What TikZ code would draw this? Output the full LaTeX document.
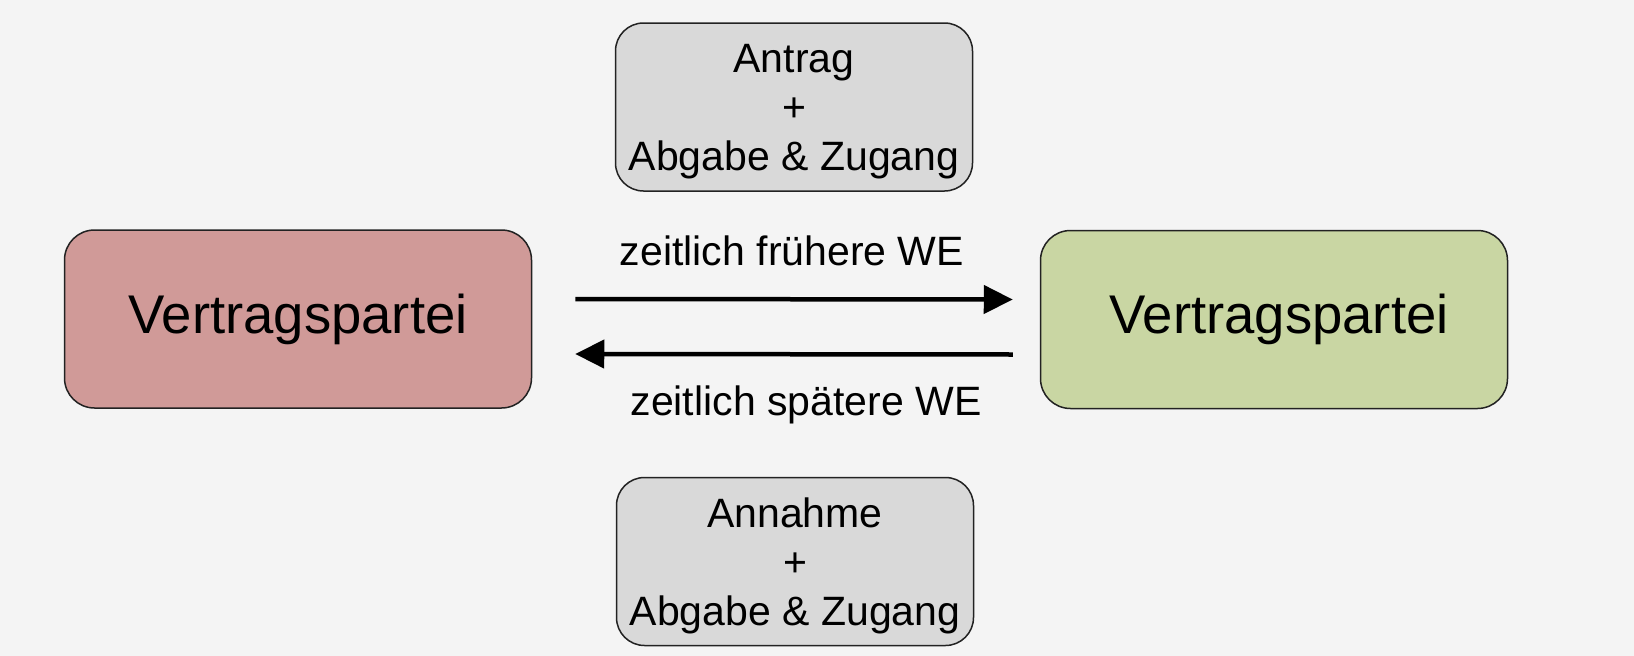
\documentclass[tikz,border=0pt]{standalone}
\usepackage{fontspec}
\setmainfont{Liberation Sans}
\usetikzlibrary{arrows.meta}
\definecolor{bg}{HTML}{F4F4F4}
\definecolor{redbox}{HTML}{D09A98}
\definecolor{greenbox}{HTML}{C9D6A3}
\definecolor{graybox}{HTML}{D9D9D9}
\definecolor{edgecol}{HTML}{222222}
\begin{document}
\begin{tikzpicture}[x=1pt,y=-1pt,
  party/.style={draw=edgecol, line width=1.5pt, rounded corners=30pt, minimum width=467pt, minimum height=178pt, font=\fontsize{54.5}{60}\selectfont, inner sep=0pt},
  info/.style={draw=edgecol, fill=graybox, line width=1.5pt, rounded corners=28pt, minimum width=357pt, minimum height=168pt, align=center, font=\fontsize{41}{49}\selectfont, inner sep=0pt, text depth=0pt},
  lab/.style={font=\fontsize{41}{48}\selectfont, anchor=base, inner sep=0pt},
  arr/.style={line width=4.5pt, -{Triangle[length=29pt,width=28pt]}}]
\fill[bg] (0,0) rectangle (1634,656);
\useasboundingbox (0,0) rectangle (1634,656);
\node[party, fill=redbox] (L) at (298,319) {Vertragspartei};
\node[party, fill=greenbox] (R) at (1274,319.5) {\hspace*{10pt}Vertragspartei};
\node[info] (T) at (794,107) {Antrag\\+\\Abgabe \& Zugang};
\node[info] (B) at (795,561.5) {Annahme\\+\\Abgabe \& Zugang};
\draw[arr] ([shift={(43,-20)}]L.east) -- ([shift={(-27,-20)}]R.west);
\draw[arr] ([shift={(-27,35)}]R.west) -- ([shift={(43,35)}]L.east);
\node[lab] (l1) at (792,265) {zeitlich frühere WE};
\node[lab] (l2) at (806,415) {zeitlich spätere WE};
\end{tikzpicture}
\end{document}
